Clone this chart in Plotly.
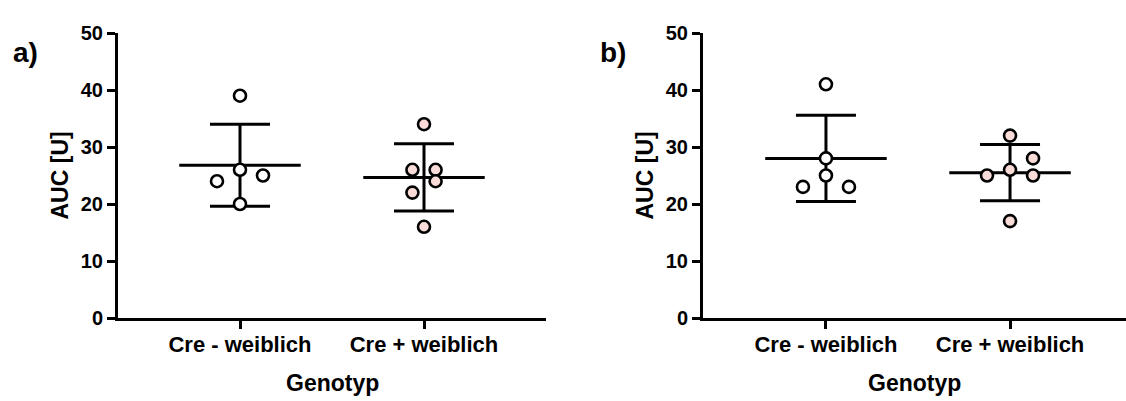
import numpy as np
import plotly.graph_objects as go

# AUC values per genotype group, two experiments (a, b)
categories = ["Cre - weiblich", "Cre + weiblich"]
a_cre_neg = [39, 26, 24, 25, 20]
a_cre_pos = [34, 26, 26, 24, 22, 16]
b_cre_neg = [41, 28, 25, 23, 23]
b_cre_pos = [32, 28, 26, 25, 25, 17]
y_ticks = [0, 10, 20, 30, 40, 50]

# horizontal scatter of overlapping points (category units)
jitter_a_neg = [0, 0, -0.125, 0.125, 0]
jitter_a_pos = [0, -0.063, 0.063, 0.063, -0.063, 0]
jitter_b_neg = [0, 0, 0, -0.125, 0.125]
jitter_b_pos = [0, 0.125, 0, -0.125, 0.125, 0]

W, H = 1126, 401
FONT = "Liberation Sans, Arial, sans-serif"
fills = ["#ffffff", "#f9dbd8"]

fig = go.Figure()


def add_group(xa, ya, cx, vals, jit, fill):
    v = np.array(vals, dtype=float)
    m = v.mean()
    sd = v.std(ddof=1)
    mh, ch = 0.33, 0.163
    xs = [cx - mh, cx + mh, None, cx, cx, None,
          cx - ch, cx + ch, None, cx - ch, cx + ch]
    ys = [m, m, None, m - sd, m + sd, None,
          m + sd, m + sd, None, m - sd, m - sd]
    fig.add_trace(go.Scatter(x=xs, y=ys, mode="lines", xaxis=xa, yaxis=ya,
                             line=dict(color="black", width=3),
                             hoverinfo="skip", showlegend=False))
    fig.add_trace(go.Scatter(x=[cx + j for j in jit], y=vals, mode="markers",
                             xaxis=xa, yaxis=ya, showlegend=False,
                             marker=dict(size=12, color=fill,
                                         line=dict(color="black", width=2.6))))


add_group("x", "y", 0, a_cre_neg, jitter_a_neg, fills[0])
add_group("x", "y", 1, a_cre_pos, jitter_a_pos, fills[1])
add_group("x2", "y2", 0, b_cre_neg, jitter_b_neg, fills[0])
add_group("x2", "y2", 1, b_cre_pos, jitter_b_pos, fills[1])

tickfont = dict(family=FONT, size=20, color="black", weight="bold")
xtickfont = dict(family=FONT, size=22, color="black", weight="bold")

xcommon = dict(tickvals=[0, 1], ticktext=categories, showline=True,
               linecolor="black", linewidth=3, ticks="outside", ticklen=8,
               tickwidth=3, tickcolor="black", showgrid=False, zeroline=False,
               tickfont=xtickfont, fixedrange=True, ticklabelstandoff=-3)
ycommon = dict(range=[0, 50], tickvals=y_ticks, showline=True,
               linecolor="black", linewidth=3, ticks="outside", ticklen=8,
               tickwidth=3, tickcolor="black", showgrid=False, zeroline=False,
               tickfont=tickfont, fixedrange=True)

pa = (118, 546)
pb = (703, 1126)
fig.update_layout(
    width=W, height=H,
    margin=dict(l=0, r=0, t=33, b=83),
    paper_bgcolor="white", plot_bgcolor="white",
    xaxis=dict(domain=[pa[0] / W, pa[1] / W], range=[-0.663, 1.663],
               anchor="y", **xcommon),
    yaxis=dict(domain=[0, 1], anchor="x", **ycommon),
    xaxis2=dict(domain=[pb[0] / W, pb[1] / W], range=[-0.668, 1.630],
                anchor="y2", **xcommon),
    yaxis2=dict(domain=[0, 1], anchor="x2", **ycommon),
)

titlefont = dict(family=FONT, size=23, color="black", weight="bold")
ann = []
for px, lab in [(25, "a)"), (613, "b)")]:
    ann.append(dict(x=px / W, y=1 - 28 / H, xref="paper", yref="paper",
                    yanchor="middle", xanchor="center", showarrow=False,
                    text=lab, font=dict(family=FONT, size=28, color="black",
                                        weight="bold")))
for px in [59, 644]:
    ann.append(dict(x=px / W, y=0.5, xref="paper", yref="paper",
                    xanchor="center", yanchor="middle", showarrow=False,
                    text="AUC [U]", textangle=-90, font=titlefont))
for px in [(pa[0] + pa[1]) / 2, (pb[0] + pb[1]) / 2]:
    ann.append(dict(x=px / W, y=-65 / 285, xref="paper", yref="paper",
                    xanchor="center", yanchor="middle", showarrow=False,
                    text="Genotyp", font=titlefont))
fig.update_layout(annotations=ann)

fig.write_html("out.html")
